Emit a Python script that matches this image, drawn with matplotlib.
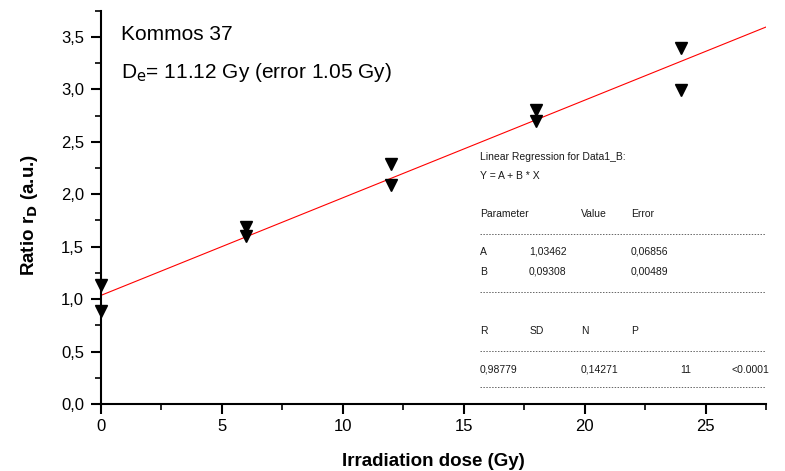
import matplotlib
matplotlib.use('Agg')
import matplotlib.pyplot as plt
from matplotlib.ticker import MultipleLocator, FuncFormatter

plt.rcParams['font.family'] = ['Liberation Sans', 'DejaVu Sans']

# data
dose = [0, 0, 6, 6, 12, 12, 18, 18, 24, 24]
ratio = [1.13, 0.89, 1.69, 1.60, 2.29, 2.09, 2.80, 2.70, 3.39, 2.99]

# fit results (from the regression report)
A, B = 1.03462, 0.09308
fit_x = [0, 27.5]

title_lines = ['Kommos 37', r'D$_\mathrm{e}$= 11.12 Gy (error 1.05 Gy)']

fig = plt.figure(figsize=(7.85, 4.71), dpi=100)
# axes box in pixels: x 100.7..766, y 10.7..404
ax = fig.add_axes([100.7 / 785, 1 - 404 / 471, 665.3 / 785, 393.3 / 471])

ax.plot(dose, ratio, 'v', color='black', ms=8.5, clip_on=False, zorder=3)
ax.plot(fit_x, [A + B * x for x in fit_x], '-', color='red', lw=0.8)

ax.set_xlim(0, 27.5)
ax.set_ylim(0, 3.75)
ax.spines['top'].set_visible(False)
ax.spines['right'].set_visible(False)
for s in ['left', 'bottom']:
    ax.spines[s].set_linewidth(1.5)

ax.xaxis.set_major_locator(MultipleLocator(5))
ax.xaxis.set_minor_locator(MultipleLocator(2.5))
ax.yaxis.set_major_locator(MultipleLocator(0.5))
ax.yaxis.set_minor_locator(MultipleLocator(0.25))
ax.yaxis.set_major_formatter(FuncFormatter(lambda v, p: f'{v:.1f}'.replace('.', ',')))
ax.tick_params(which='major', direction='out', length=7, width=1.5, labelsize=12)
ax.tick_params(axis='x', which='major', pad=4)
ax.tick_params(axis='y', which='major', pad=5)
ax.tick_params(which='minor', direction='out', length=4, width=1.2)

ax.set_xlabel('Irradiation dose (Gy)', fontsize=13.5, fontweight='bold')
ax.set_ylabel(r'Ratio r$_\mathbf{D}$ (a.u.)', fontsize=13.5, fontweight='bold')
ax.xaxis.set_label_coords(0.5, (404 - 461) / 393.3)
ax.xaxis.label.set_va('center')
ax.yaxis.set_label_coords((30 - 100.7) / 665.3, 0.48)
ax.yaxis.label.set_va('center')

fig.text(121 / 785, 1 - 34 / 471, title_lines[0], fontsize=15, va='center')
fig.text(121 / 785, 1 - 73 / 471, title_lines[1], fontsize=15, va='center')

# regression report
fs = 7.5
def t(x, y, s):
    fig.text(x / 785, 1 - y / 471, s, fontsize=fs, va='center', color='#1a1a1a')

def dash(y):
    fig.add_artist(plt.Line2D([480 / 785, 765 / 785], [1 - y / 471] * 2,
                              transform=fig.transFigure, color='#666666',
                              lw=0.7, ls=(0, (1.5, 1.5))))

t(480, 157, 'Linear Regression for Data1_B:')
t(480, 176, 'Y = A + B * X')
t(480, 214, 'Parameter')
t(581, 214, 'Value')
t(631, 214, 'Error')
dash(234)
t(480, 252, 'A')
t(529, 252, '1,03462')
t(631, 252, '0,06856')
t(480, 272, 'B')
t(529, 272, '0,09308')
t(631, 272, '0,00489')
dash(292)
t(480, 331, 'R')
t(530, 331, 'SD')
t(581, 331, 'N')
t(631, 331, 'P')
dash(351)
t(480, 370, '0,98779')
t(581, 370, '0,14271')
t(680, 370, '11')
t(731, 370, '<0.0001')
dash(387)

fig.savefig('out.png', dpi=100)
